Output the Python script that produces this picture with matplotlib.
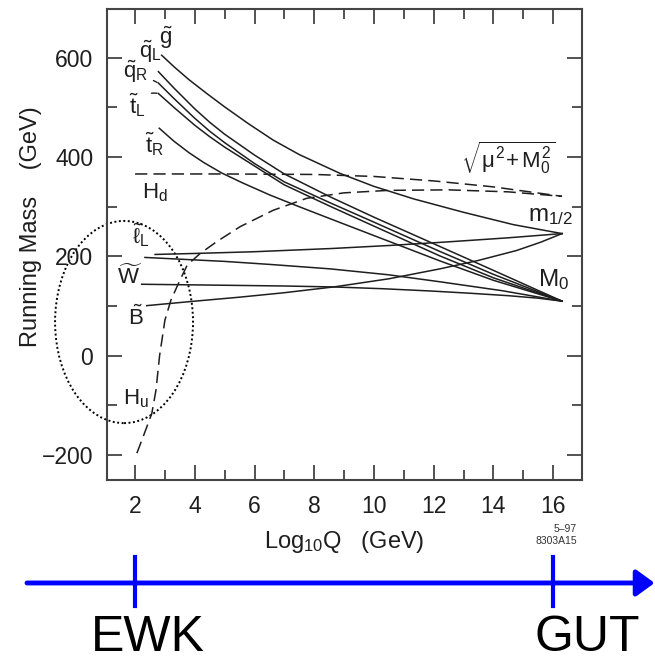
import matplotlib.pyplot as plt
from matplotlib import transforms
from matplotlib.lines import Line2D
from matplotlib.patches import Ellipse
from matplotlib.ticker import MultipleLocator

plt.rcParams['font.family'] = ['Liberation Sans', 'DejaVu Sans']
plt.rcParams['mathtext.fontset'] = 'custom'
plt.rcParams['mathtext.rm'] = 'Liberation Sans'
plt.rcParams['mathtext.it'] = 'Liberation Sans'
plt.rcParams['mathtext.bf'] = 'Liberation Sans:bold'

# running masses: x = log10 Q, y = mass in GeV
gluino_x = [2.89, 3.3, 3.8, 4.4, 5, 5.8, 6.63, 7.5, 8.87, 10, 11.32, 12.99, 14.67, 16.3]
gluino_y = [605, 582, 556, 528, 501, 467, 434, 405, 367, 341, 316, 289, 264, 246]

squark_x = [2.78, 3.3, 4, 4.5, 5, 6, 7, 8.53, 10, 12.21, 14, 16.3]
qL_y = [572, 539, 497, 470, 446, 404, 366, 320, 279, 220, 172, 110]
qR_y = [549, 518, 478, 452, 429, 387, 350, 308, 269, 210, 164, 110]
tL_y = [528, 500, 464, 441, 420, 382, 344, 301, 261, 201, 157, 110]

tR_x = [2.81, 3.3, 3.8, 4.3, 4.9, 5.6, 6.5, 7.5, 8.53, 10, 12.21, 14, 16.3]
tR_y = [458, 432, 409, 389, 368, 348, 324, 300, 276, 242, 191, 152, 110]

lL_x = [2.33, 3.5, 5, 6.5, 8.53, 10.5, 12.21, 14.3, 16.3]
lL_y = [198, 194.5, 190, 184, 175, 163, 149, 131, 110]

lR_x = [2.22, 5, 7, 8.7, 10.3, 11.88, 13.2, 14.5, 15.5, 16.3]
lR_y = [144, 142, 140.5, 138.5, 135, 130.5, 126, 121, 116, 110]

wino_x = [2.67, 4, 6, 8.6, 10.5, 12.4, 14.5, 16.3]
wino_y = [204, 206, 209.5, 216, 222, 229, 237.5, 246]

bino_x = [2.39, 4, 5.5, 7, 8.7, 10.5, 12.21, 13.5, 14.78, 15.6, 16.3]
bino_y = [101, 110, 118, 127, 139, 155, 175, 192, 212, 229, 246]

hd_x = [2, 5, 8, 10, 12, 14, 16.3]
hd_y = [366, 366, 365, 361, 352, 340, 321]

hu_x = [2.06, 2.3, 2.56, 2.7, 2.82, 3.0, 3.2, 3.5, 3.75, 4.18, 4.74, 5.52,
        6.63, 7.75, 9.0, 10.5, 12.5, 14.5, 16.3]
hu_y = [-196, -158, -116, -69, 0, 72, 112, 152, 183, 206, 230, 260,
        293, 317, 328, 333, 334, 330, 321]

# energy scales marked on the arrow below the plot
scale_names = ['EWK', 'GUT']
scale_logq = [2, 16]

fig = plt.figure(figsize=(6.55, 6.63), dpi=100)
ax = fig.add_axes([0.1634, 0.2760, 0.7252, 0.7104])

ink = '#1e1e1e'
solid = dict(color=ink, lw=1.1)
dashed = dict(color=ink, lw=1.1, dashes=(8, 4))

ax.plot(gluino_x, gluino_y, **solid)
ax.plot(squark_x, qL_y, **solid)
ax.plot(squark_x, qR_y, **solid)
ax.plot(squark_x, tL_y, **solid)
ax.plot(tR_x, tR_y, **solid)
ax.plot(lL_x, lL_y, **solid)
ax.plot(lR_x, lR_y, **solid)
ax.plot(wino_x, wino_y, **solid)
ax.plot(bino_x, bino_y, **solid)
ax.plot(hd_x, hd_y, **dashed)
ax.plot(hu_x, hu_y, **dashed)

# dotted ellipse round the low-scale end
ax.add_patch(Ellipse((1.63, 68), width=4.62, height=407, fill=False,
                     ec='black', lw=1.4, ls=(0, (1, 1.3)), clip_on=False))

lab = dict(ha='center', va='center', fontsize=16, color=ink)
ax.text(3.05, 640, r'$\tilde{g}$', **lab)
ax.text(2.52, 612, r'$\tilde{q}_L$', **lab)
ax.annotate(r'$\tilde{q}_R$', xy=(squark_x[0], qR_y[0]), xytext=(2.02, 572),
            arrowprops=dict(arrowstyle='-', lw=1, color=ink, shrinkB=1), **lab)
ax.annotate(r'$\tilde{t}_L$', xy=(squark_x[0], tL_y[0]), xytext=(2.08, 505),
            arrowprops=dict(arrowstyle='-', lw=1, color=ink, shrinkB=1,
                            connectionstyle='arc3,rad=-0.4'), **lab)
ax.text(2.64, 426, r'$\tilde{t}_R$', **lab)
ax.text(2.67, 328, r'$H_d$', **lab)
ax.text(2.2, 243, r'$\tilde{\ell}_L$', **lab)
ax.text(1.8, 160, r'$\widetilde{W}$', **lab)
ax.text(2.03, 77, r'$\tilde{B}$', **lab)
ax.text(2.03, -86, r'$H_u$', **lab)
ax.text(14.52, 399, r'$\sqrt{\mu^2\!+ M_0^2}$', **lab)
ax.text(15.93, 281, r'$m_{1/2}$', ha='center', va='center', fontsize=17.5, color=ink)
ax.text(16.0, 153, r'$M_0$', ha='center', va='center', fontsize=17.5, color=ink)

ax.set_xlim(1.06, 16.97)
ax.set_ylim(-250, 698)
ax.xaxis.set_major_locator(MultipleLocator(2))
ax.xaxis.set_minor_locator(MultipleLocator(1))
ax.yaxis.set_major_locator(MultipleLocator(200))
ax.yaxis.set_minor_locator(MultipleLocator(100))

edge = '#444444'
for s in ax.spines.values():
    s.set_color(edge)
    s.set_linewidth(1.5)
ax.tick_params(which='both', direction='in', top=True, right=True,
               color=edge, width=1.3, labelsize=16.5, labelcolor=ink)
ax.tick_params(which='major', length=11)
ax.tick_params(which='minor', length=7.5)
ax.tick_params(axis='y', pad=10)
ax.tick_params(axis='x', pad=11)

ax.set_xlabel(r'Log$_{10}$Q   (GeV)', fontsize=17, color=ink, labelpad=8)
ax.set_ylabel('Running Mass    (GeV)', fontsize=17, color=ink)
ax.yaxis.set_label_coords(-0.137, 0.537)

ax.text(0.989, -0.104, '5\u201397', transform=ax.transAxes, ha='right',
        va='center', fontsize=7.5, color='#333333')
ax.text(0.989, -0.130, '8303A15', transform=ax.transAxes, ha='right',
        va='center', fontsize=7.5, color='#333333')

# blue energy-scale arrow under the plot
trans = transforms.blended_transform_factory(ax.transData, fig.transFigure)
ax.annotate('', xy=(19.4, 0.1207), xytext=(-1.62, 0.1207),
            xycoords=trans, textcoords=trans, annotation_clip=False,
            arrowprops=dict(arrowstyle='-|>,head_length=0.55,head_width=0.4',
                            mutation_scale=20, color='#0000ff', lw=3.5,
                            shrinkA=0, shrinkB=0))
for name, q, tx in zip(scale_names, scale_logq, [2.42, 17.14]):
    fig.add_artist(Line2D([q, q], [0.086, 0.160], transform=trans,
                          color='#0000ff', lw=3))
    ax.text(tx, 0.003, name, transform=trans, ha='center', va='bottom',
            fontsize=36, color='black')

fig.savefig('out.png', dpi=100)
